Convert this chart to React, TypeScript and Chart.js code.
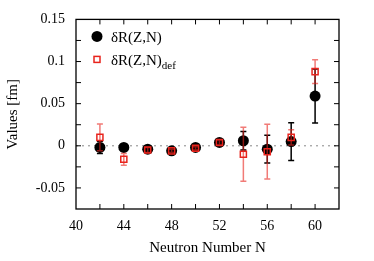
import React, { useEffect, useRef } from "react";
import { Chart, registerables } from "chart.js";

Chart.register(...registerables);

const neutronN = [42, 44, 46, 48, 50, 52, 54, 56, 58, 60];
const deltaR = [-0.002, -0.002, -0.004, -0.006, -0.002, 0.004, 0.006, -0.004, 0.005, 0.059];
const deltaRErr = [0.007, 0.003, 0.002, 0.002, 0.002, 0.002, 0.011, 0.0165, 0.0225, 0.032];
const deltaRDef = [0.010, -0.016, -0.005, -0.006, -0.003, 0.004, -0.010, -0.007, 0.010, 0.088];
const deltaRDefErr = [0.016, 0.007, 0.003, 0.002, 0.002, 0.003, 0.032, 0.0325, 0.009, 0.014];

const seriesLabel = "δR(Z,N)";
const seriesDefSub = "def";
const xTitle = "Neutron Number N";
const yTitle = "Values [fm]";

const FONT = "'Liberation Serif', 'DejaVu Serif', serif";
const RED = "#e8231c";
const RED_BAR = "rgba(232,35,28,0.6)";

const errors = [deltaRErr, deltaRDefErr];
const barColors = ["#000000", RED_BAR];

const errorBarPlugin = {
  id: "errorBars",
  beforeDatasetDraw(chart: any, args: any) {
    const i = args.index;
    const errs = errors[i];
    if (!errs) return;
    const ctx = chart.ctx;
    const xs = chart.scales.x;
    const ys = chart.scales.y;
    const data = chart.data.datasets[i].data as any[];
    ctx.save();
    ctx.strokeStyle = barColors[i];
    ctx.lineWidth = 1.5;
    const cap = 3;
    data.forEach((p, k) => {
      const x = xs.getPixelForValue(p.x);
      const y1 = ys.getPixelForValue(p.y - errs[k]);
      const y2 = ys.getPixelForValue(p.y + errs[k]);
      ctx.beginPath();
      ctx.moveTo(x, y1);
      ctx.lineTo(x, y2);
      ctx.moveTo(x - cap, y1);
      ctx.lineTo(x + cap, y1);
      ctx.moveTo(x - cap, y2);
      ctx.lineTo(x + cap, y2);
      ctx.stroke();
    });
    ctx.restore();
  },
};

const framePlugin = {
  id: "frame",
  beforeDatasetsDraw(chart: any) {
    const ctx = chart.ctx;
    const a = chart.chartArea;
    const ys = chart.scales.y;
    const y0 = ys.getPixelForValue(0);
    ctx.save();
    ctx.strokeStyle = "#888888";
    ctx.lineWidth = 1;
    ctx.setLineDash([2, 4]);
    ctx.beginPath();
    ctx.moveTo(a.left, y0);
    ctx.lineTo(a.right, y0);
    ctx.stroke();
    ctx.restore();
  },
  afterDraw(chart: any) {
    const ctx = chart.ctx;
    const a = chart.chartArea;
    const xs = chart.scales.x;
    const ys = chart.scales.y;
    ctx.save();
    ctx.strokeStyle = "#000";
    ctx.lineWidth = 1.3;
    ctx.strokeRect(a.left, a.top, a.right - a.left, a.bottom - a.top);
    const tl = 5;
    ctx.lineWidth = 1;
    ctx.beginPath();
    xs.ticks.forEach((t: any) => {
      const x = xs.getPixelForValue(t.value);
      if (x <= a.left + 1 || x >= a.right - 1) return;
      ctx.moveTo(x, a.bottom);
      ctx.lineTo(x, a.bottom - tl);
      ctx.moveTo(x, a.top);
      ctx.lineTo(x, a.top + tl);
    });
    ys.ticks.forEach((t: any) => {
      const y = ys.getPixelForValue(t.value);
      if (y <= a.top + 1 || y >= a.bottom - 1) return;
      ctx.moveTo(a.left, y);
      ctx.lineTo(a.left + tl, y);
      ctx.moveTo(a.right, y);
      ctx.lineTo(a.right - tl, y);
    });
    ctx.stroke();

    // legend
    const lx = a.left + 21;
    ctx.fillStyle = "#000";
    ctx.beginPath();
    ctx.arc(lx, a.top + 17, 5.5, 0, Math.PI * 2);
    ctx.fill();
    ctx.font = `15px ${FONT}`;
    ctx.textBaseline = "alphabetic";
    ctx.textAlign = "left";
    ctx.fillText(seriesLabel, lx + 14, a.top + 23);

    ctx.strokeStyle = RED;
    ctx.lineWidth = 1.5;
    ctx.strokeRect(lx - 3, a.top + 40 - 3, 6, 6);
    ctx.fillStyle = "#000";
    ctx.fillText(seriesLabel, lx + 14, a.top + 46);
    const w = ctx.measureText(seriesLabel).width;
    ctx.font = `11px ${FONT}`;
    ctx.fillText(seriesDefSub, lx + 14 + w, a.top + 50);
    ctx.restore();
  },
};

export default function App() {
  const ref = useRef<HTMLCanvasElement | null>(null);
  useEffect(() => {
    if (!ref.current) return;
    const chart = new Chart(ref.current, {
      type: "scatter",
      data: {
        datasets: [
          {
            label: seriesLabel,
            order: 2,
            data: neutronN.map((n, i) => ({ x: n, y: deltaR[i] })),
            pointStyle: "circle",
            pointRadius: 5.5,
            pointBackgroundColor: "#000",
            pointBorderColor: "#000",
            pointBorderWidth: 0,
          },
          {
            label: seriesLabel + "def",
            order: 1,
            data: neutronN.map((n, i) => ({ x: n, y: deltaRDef[i] })),
            pointStyle: "rect",
            pointRadius: 4.3,
            pointBackgroundColor: "rgba(0,0,0,0)",
            pointBorderColor: RED,
            pointBorderWidth: 1.5,
          },
        ],
      },
      options: {
        animation: false,
        responsive: false,
        maintainAspectRatio: false,
        layout: { padding: { top: 18, right: 35, left: 0, bottom: 0 } },
        plugins: { legend: { display: false }, tooltip: { enabled: false } },
        scales: {
          x: {
            type: "linear",
            min: 40,
            max: 62,
            grid: { display: false, drawTicks: false },
            border: { display: false },
            ticks: {
              stepSize: 2,
              autoSkip: false,
              maxRotation: 0,
              padding: 9,
              color: "#000",
              font: { family: FONT, size: 14 },
              callback: (v: any) => (Math.round(v) % 4 === 0 && v < 62 ? String(v) : ""),
            },
            title: {
              display: true,
              text: xTitle,
              color: "#000",
              font: { family: FONT, size: 15 },
            },
            afterFit: (s: any) => {
              s.height = 52;
            },
          },
          y: {
            type: "linear",
            min: -0.075,
            max: 0.15,
            grid: { display: false, drawTicks: false },
            border: { display: false },
            ticks: {
              stepSize: 0.025,
              autoSkip: false,
              padding: 11,
              color: "#000",
              font: { family: FONT, size: 14 },
              callback: (v: any) => {
                const k = Math.round(v / 0.025);
                if (k % 2 !== 0) return "";
                return String(Number((k * 0.025).toFixed(3)));
              },
            },
            title: {
              display: true,
              text: yTitle,
              color: "#000",
              font: { family: FONT, size: 15 },
            },
            afterFit: (s: any) => {
              s.width = 76;
            },
          },
        },
      },
      plugins: [errorBarPlugin, framePlugin],
    });
    return () => chart.destroy();
  }, []);
  return (
    <div style={{ position: "fixed", left: 0, top: 0, width: 374, height: 261, background: "#fff" }}>
      <canvas ref={ref} width={374} height={261} style={{ display: "block" }} />
    </div>
  );
}
